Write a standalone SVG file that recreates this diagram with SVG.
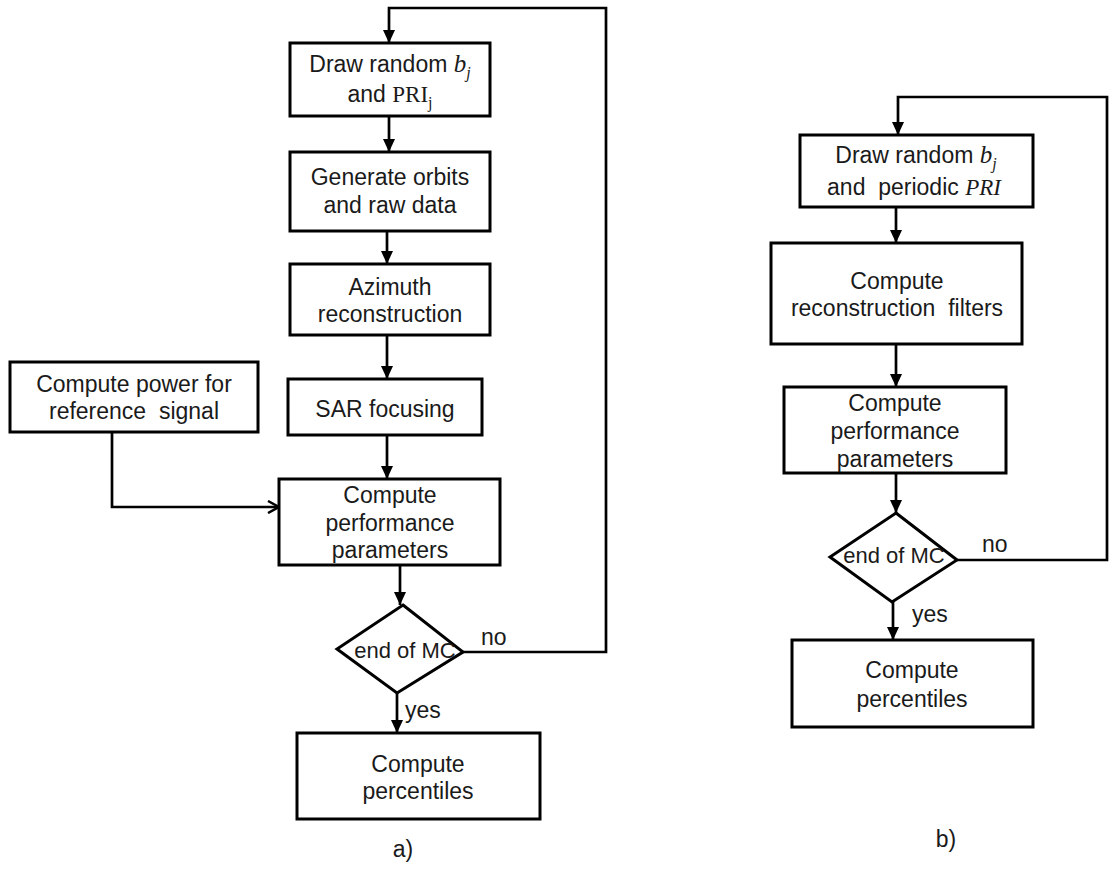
<svg xmlns="http://www.w3.org/2000/svg" width="1110" height="869" viewBox="0 0 1110 869">
<style>
.box{fill:#fff;stroke:#000;stroke-width:3}
.dia{fill:#fff;stroke:#000;stroke-width:3}
.t{font-family:"Liberation Sans",Arial,sans-serif;font-size:23px;fill:#1a1a1a;text-anchor:middle;white-space:pre}
.m{font-family:"Liberation Serif","Times New Roman",serif}
.c{font-family:"Liberation Sans",Arial,sans-serif;font-size:22px;fill:#1a1a1a}
.lbl{font-family:"Liberation Sans",Arial,sans-serif;font-size:23px;fill:#1a1a1a}
.con{fill:none;stroke:#000;stroke-width:2.7}
</style>
<defs>
<marker id="ahv" markerUnits="userSpaceOnUse" markerWidth="14" markerHeight="14" refX="12" refY="7" orient="auto" viewBox="0 0 14 14">
<path d="M1,1 L12,7 L1,13" fill="none" stroke="#000" stroke-width="2.5"/>
</marker>
<marker id="ad" markerUnits="userSpaceOnUse" markerWidth="14" markerHeight="12" refX="13" refY="6" orient="auto" viewBox="0 0 14 12">
<path d="M0,0 L13,6 L0,12 Z" fill="#000"/>
</marker>
</defs>

<g id="connectors">
<path class="con" d="M463,652 H606 V8 H389 V43" marker-end="url(#ad)"/>
<path class="con" d="M389,116 V152" marker-end="url(#ad)"/>
<path class="con" d="M387,231 V264" marker-end="url(#ad)"/>
<path class="con" d="M387,335 V379" marker-end="url(#ad)"/>
<path class="con" d="M387,435 V479" marker-end="url(#ad)"/>
<path class="con" d="M400,565 V605" marker-end="url(#ad)"/>
<path class="con" d="M397,693 V733" marker-end="url(#ad)"/>
<path class="con" d="M112,432 V507 H279" marker-end="url(#ahv)"/>
<path class="con" d="M957,560 H1107 V97 H898 V135" marker-end="url(#ad)"/>
<path class="con" d="M896,207 V243" marker-end="url(#ad)"/>
<path class="con" d="M896,344 V387" marker-end="url(#ad)"/>
<path class="con" d="M896,473 V513" marker-end="url(#ad)"/>
<path class="con" d="M893,602 V640" marker-end="url(#ad)"/>
</g>

<g id="a_draw">
<rect class="box" x="290" y="43" width="200" height="73"/>
<text class="t" x="390" y="72">Draw random <tspan class="m" font-style="italic" font-size="25">b</tspan><tspan class="m" font-style="italic" font-size="16" dy="6">j</tspan></text>
<text class="t" x="390" y="102">and <tspan class="m" font-size="23">PRI</tspan><tspan class="m" font-size="16" dy="6">j</tspan></text>
</g>
<g id="a_generate">
<rect class="box" x="290" y="152" width="200" height="79"/>
<text class="t" x="390" y="185">Generate orbits</text>
<text class="t" x="390" y="213">and raw data</text>
</g>
<g id="a_azimuth">
<rect class="box" x="290" y="264" width="200" height="71"/>
<text class="t" x="390" y="295">Azimuth</text>
<text class="t" x="390" y="322">reconstruction</text>
</g>
<g id="a_sar">
<rect class="box" x="288" y="379" width="194" height="56"/>
<text class="t" x="385" y="417">SAR focusing</text>
</g>
<g id="a_power">
<rect class="box" x="10" y="362" width="248" height="70"/>
<text class="t" x="134" y="392">Compute power for</text>
<text class="t" x="134" y="419">reference  signal</text>
</g>
<g id="a_perf">
<rect class="box" x="279" y="479" width="221" height="86"/>
<text class="t" x="390" y="503">Compute</text>
<text class="t" x="390" y="531">performance</text>
<text class="t" x="390" y="558">parameters</text>
</g>
<g id="a_end">
<polygon class="dia" points="403,605 463,652 397,693 337,649"/>
<text class="c" x="405" y="658" text-anchor="middle">end of MC</text>
</g>
<g id="a_pct">
<rect class="box" x="297" y="733" width="243" height="86"/>
<text class="t" x="418" y="772">Compute</text>
<text class="t" x="418" y="799">percentiles</text>
</g>
<text class="lbl" x="481" y="645">no</text>
<text class="lbl" x="405" y="718">yes</text>
<text class="lbl" x="403" y="857" text-anchor="middle">a)</text>

<g id="b_draw">
<rect class="box" x="800" y="135" width="233" height="72"/>
<text class="t" x="916" y="163">Draw random <tspan class="m" font-style="italic" font-size="25">b</tspan><tspan class="m" font-style="italic" font-size="16" dy="6">j</tspan></text>
<text class="t" x="914" y="195">and  periodic <tspan class="m" font-style="italic" font-size="23">PRI</tspan></text>
</g>
<g id="b_filters">
<rect class="box" x="771" y="243" width="251" height="101"/>
<text class="t" x="897" y="289">Compute</text>
<text class="t" x="897" y="316">reconstruction  filters</text>
</g>
<g id="b_perf">
<rect class="box" x="784" y="387" width="222" height="86"/>
<text class="t" x="895" y="411">Compute</text>
<text class="t" x="895" y="439">performance</text>
<text class="t" x="895" y="467">parameters</text>
</g>
<g id="b_end">
<polygon class="dia" points="896,513 957,560 892,602 830,557"/>
<text class="c" x="894" y="563" text-anchor="middle">end of MC</text>
</g>
<g id="b_pct">
<rect class="box" x="792" y="640" width="241" height="87"/>
<text class="t" x="912" y="678">Compute</text>
<text class="t" x="912" y="707">percentiles</text>
</g>
<text class="lbl" x="982" y="552">no</text>
<text class="lbl" x="912" y="622">yes</text>
<text class="lbl" x="946" y="847" text-anchor="middle">b)</text>
</svg>
